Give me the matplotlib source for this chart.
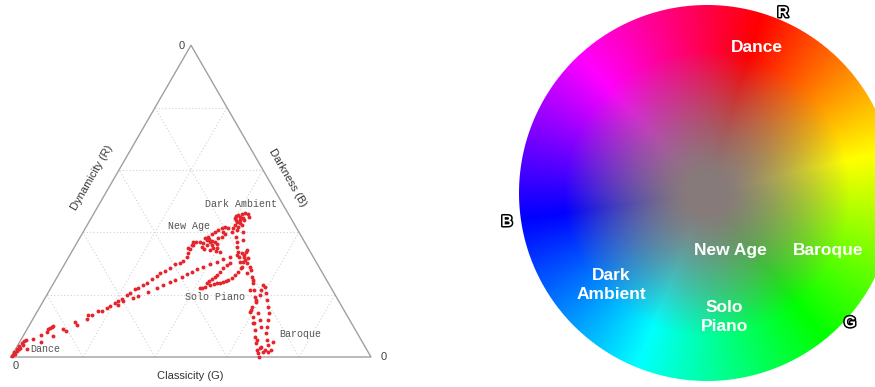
import numpy as np
import matplotlib.pyplot as plt
import matplotlib.patheffects as pe
from matplotlib.colors import to_rgb

# ternary trail: classicity (G) and darkness (B) in percent, dynamicity (R) = 100 - G - B
dance_g = [0.0, 0.3, 0.5, 0.2, 0.8, 0.4, 1.0, 0.6, 1.2, 0.7, 1.0, 1.4, 0.9, 3.1, 3.2, 4.8, 5.9,
           6.0, 5.8, 6.2, 6.6, 6.7, 8.3, 9.9, 11.1, 12.2, 13.2, 15.0, 14.6, 15.8, 16.8, 17.9]
dance_b = [0.3, 0.5, 1.0, 1.5, 2.0, 2.5, 3.0, 3.5, 4.0, 4.5, 5.0, 5.5, 2.6, 2.6, 5.8, 7.1, 4.8,
           8.0, 9.0, 9.3, 9.6, 9.9, 6.7, 9.0, 8.3, 11.2, 10.3, 12.2, 13.5, 13.5, 14.8, 14.8]

upper_g = [18.8, 19.3, 20.2, 20.7, 21.5, 22.3, 22.8, 23.5, 24.2, 25.1, 25.9, 26.7, 27.6, 28.0,
           29.0, 29.9, 30.7, 31.9, 32.4, 32.8, 32.5, 32.4, 32.3, 32.1]
upper_b = [15.7, 16.4, 17.3, 18.0, 18.6, 19.9, 20.5, 21.8, 22.1, 23.1, 23.7, 25.0, 26.0, 26.9,
           27.6, 28.5, 29.8, 30.1, 30.8, 32.1, 33.4, 34.6, 35.9, 36.9]

lower_g = [21.4, 22.1, 24.4, 25.5, 27.7, 29.5, 30.7, 32.1, 33.2, 34.7, 35.6, 36.6, 37.6, 38.9,
           40.4, 42.0, 43.2, 44.8, 46.4, 47.5]
lower_b = [16.7, 18.0, 18.9, 19.6, 20.8, 22.1, 23.1, 24.1, 24.7, 25.7, 26.6, 27.3, 28.2, 28.9,
           29.8, 30.5, 31.4, 32.1, 32.7, 33.4]

new_age_g = [31.7, 32.6, 32.9, 34.0, 35.4, 35.0, 35.7, 34.8, 35.5, 36.5, 36.8, 37.9, 38.1, 38.6,
             39.7, 38.2, 38.4, 36.1, 36.6, 37.1, 37.9, 38.6, 39.6, 39.4, 39.7, 41.2, 40.0,
             36.0, 37.3, 39.0, 38.9, 36.2]
new_age_b = [35.0, 35.9, 36.9, 36.9, 35.3, 36.6, 37.5, 38.2, 38.5, 35.9, 36.9, 35.9, 34.3, 35.0,
             35.0, 36.9, 38.2, 39.4, 40.1, 40.7, 41.4, 41.7, 41.4, 38.5, 39.4, 33.7, 34.0,
             37.8, 37.2, 36.4, 40.0, 34.8]

dark_g = [39.9, 40.3, 41.2, 41.9, 42.9, 41.1, 41.7, 42.1, 41.1, 42.2, 43.0, 42.4, 41.0, 41.3,
          39.9, 41.2, 40.6, 42.6, 43.5]
dark_b = [44.6, 45.5, 45.9, 46.2, 45.9, 43.3, 43.9, 44.6, 42.3, 41.7, 42.3, 40.7, 41.4, 40.1,
          45.2, 44.9, 43.8, 44.0, 45.0]

descent_g = [43.2, 44.3, 45.1, 46.2, 47.3, 48.4, 49.7, 49.5, 52.1, 55.6, 58.9, 61.8, 65.6, 68.0,
             42.1, 44.4, 45.7, 48.4, 52.0, 54.9, 48.4, 48.4, 49.9, 50.5]
descent_b = [38.5, 36.9, 35.3, 33.7, 32.1, 30.5, 28.9, 31.1, 26.9, 21.5, 16.0, 10.9, 5.5, 1.3,
             43.0, 40.1, 37.5, 34.3, 28.9, 24.7, 32.7, 33.7, 31.8, 30.1]

baroque_g = [52.7, 54.1, 55.4, 56.8, 58.2, 59.3, 59.1, 60.8, 62.1, 63.4, 64.6, 65.8, 67.2, 68.9,
             59.3, 60.6, 62.0, 63.4, 64.6, 65.4, 66.3, 67.0, 68.4, 69.5, 58.5, 58.7, 59.2,
             58.9, 61.6, 63.2, 64.6, 59.2, 67.8, 69.5, 70.6, 71.1, 69.2, 67.7, 70.4]
baroque_b = [27.9, 25.7, 23.7, 21.5, 19.2, 17.6, 15.1, 12.8, 10.9, 8.7, 6.4, 4.5, 2.2, 0.0,
             22.5, 20.5, 18.3, 16.0, 14.1, 11.9, 9.6, 7.7, 5.5, 3.8, 23.1, 21.5, 19.9,
             18.3, 14.1, 11.9, 9.6, 14.4, 3.2, 2.2, 1.6, 2.2, 1.6, 2.9, 4.8]

piano_g = [41.5, 42.0, 42.6, 43.7, 44.7, 45.4, 46.2, 46.8, 47.5, 47.9, 48.7, 49.1, 49.4, 49.6,
           49.2, 48.7, 42.6, 42.8, 43.3, 43.8, 44.1, 44.4, 44.6, 45.3, 45.8]
piano_b = [22.1, 22.1, 22.5, 23.1, 23.4, 23.7, 23.7, 24.1, 24.4, 24.7, 25.3, 26.3, 27.3, 28.5,
           30.5, 32.1, 23.7, 24.4, 25.0, 25.7, 26.3, 27.3, 28.5, 29.5, 30.1]

genres = ['Dark Ambient', 'New Age', 'Solo Piano', 'Baroque', 'Dance']
genre_g = [39.4, 28.4, 47.0, 76.6, 8.2]
genre_b = [49.1, 42.0, 19.3, 7.4, 2.5]

# colour wheel: hue anchors, clockwise degrees from the top
wheel_angles = [17, 77, 141, 202, 262, 317]
wheel_colors = ['#ff0000', '#ffff00', '#00ff00', '#00ffff', '#0000ff', '#ff00ff']
wheel_labels = ['Dance', 'New Age', 'Baroque', 'Dark\nAmbient', 'Solo\nPiano']
wheel_pos = [(757, 47), (730, 251), (828, 251), (611, 285), (724, 317)]

H = np.sqrt(3) / 2


def tern(g, b):
    g = np.asarray(g) / 100
    b = np.asarray(b) / 100
    return g + b / 2, b * H


fig = plt.figure(figsize=(8.75, 3.87), dpi=100)

# ---- left: ternary plot
ax1 = fig.add_axes([0, 0, 400 / 875, 1])
ax1.set_xlim(-11 / 360, 389 / 360)
ax1.set_ylim(-30 / 360, 357 / 360)
ax1.axis('off')

for k in range(1, 5):
    f = k / 5
    gx, gy = tern([0, 100 - 100 * f], [100 * f, 100 * f])
    ax1.plot(gx, gy, color='#d2d2d2', lw=0.8, ls=(0, (1, 2)))
    gx, gy = tern([100 * f, 100 * f], [0, 100 - 100 * f])
    ax1.plot(gx, gy, color='#d2d2d2', lw=0.8, ls=(0, (1, 2)))
    gx, gy = tern([100 - 100 * f, 0], [0, 100 - 100 * f])
    ax1.plot(gx, gy, color='#d2d2d2', lw=0.8, ls=(0, (1, 2)))

tx, ty = tern([0, 100, 0, 0], [0, 0, 100, 0])
ax1.plot(tx, ty, color='#a0a0a0', lw=1.0)

all_g = dance_g + upper_g + lower_g + new_age_g + dark_g + descent_g + baroque_g + piano_g
all_b = dance_b + upper_b + lower_b + new_age_b + dark_b + descent_b + baroque_b + piano_b
px, py = tern(all_g, all_b)
ax1.plot(px, py, 'o', ms=2.8, mew=0, color='#e5252d', zorder=3)

for name, g, b in zip(genres, genre_g, genre_b):
    x, y = tern(g, b)
    ax1.text(x, y, name, family='Liberation Mono', fontsize=7.2, color='#555555',
             ha='center', va='center', zorder=4)

sans = ['Liberation Sans', 'DejaVu Sans']
ax1.text(0.475, 0.865, '0', fontsize=8, color='#444444', ha='center', va='center', family=sans)
ax1.text(0.014, -0.026, '0', fontsize=8, color='#444444', ha='center', va='center', family=sans)
ax1.text(1.036, 0.0, '0', fontsize=8, color='#444444', ha='center', va='center', family=sans)
ax1.text(0.225, 0.497, 'Dynamicity (R)', rotation=60, fontsize=8, color='#333333',
         ha='center', va='center', family=sans)
ax1.text(0.769, 0.497, 'Darkness (B)', rotation=-60, fontsize=8, color='#333333',
         ha='center', va='center', family=sans)
ax1.text(0.497, -0.052, 'Classicity (G)', fontsize=8, color='#333333',
         ha='center', va='center', family=sans)

# ---- right: colour wheel
ax2 = fig.add_axes([500 / 875, 0, 375 / 875, 1])
ax2.set_xlim(500, 875)
ax2.set_ylim(387, 0)
ax2.axis('off')

cx, cy, rad = 707.0, 193.0, 188.0
xs = np.arange(500, 875) + 0.5
ys = np.arange(0, 387) + 0.5
X, Y = np.meshgrid(xs, ys)
dx, dy = X - cx, Y - cy
dist = np.hypot(dx, dy)
theta = np.degrees(np.arctan2(dx, -dy)) % 360

ang = np.array([wheel_angles[-1] - 360] + wheel_angles + [wheel_angles[0] + 360])
cols = [to_rgb(c) for c in wheel_colors]
cols = np.array([cols[-1]] + cols + [cols[0]])
hue = np.stack([np.interp(theta, ang, cols[:, i]) for i in range(3)], axis=-1)

gray = np.array([0.53, 0.48, 0.48])
s = np.clip(dist / rad, 0, 1)
f = np.clip((s - 0.1) / 0.66, 0, 1) ** 1.3
rgb = gray + (hue - gray) * f[..., None]
alpha = np.clip(rad - dist + 0.5, 0, 1)
img = np.dstack([rgb, alpha])
ax2.imshow(img, extent=(500, 875, 387, 0), origin='upper', interpolation='bilinear')

bold = ['Liberation Sans Narrow', 'Liberation Sans', 'DejaVu Sans']
for lab, (lx, ly) in zip(wheel_labels, wheel_pos):
    ax2.text(lx, ly, lab, color='white', fontsize=12.5, fontweight='bold', family=bold,
             ha='center', va='center', linespacing=1.35)

outline = [pe.withStroke(linewidth=2.2, foreground='black')]
for lab, (lx, ly) in zip(['R', 'B', 'G'], [(783, 13), (507, 222), (850, 323)]):
    ax2.text(lx, ly, lab, color='white', fontsize=11, fontweight='bold', family=sans,
             ha='center', va='center', path_effects=outline)

fig.savefig('out.png', dpi=100)
